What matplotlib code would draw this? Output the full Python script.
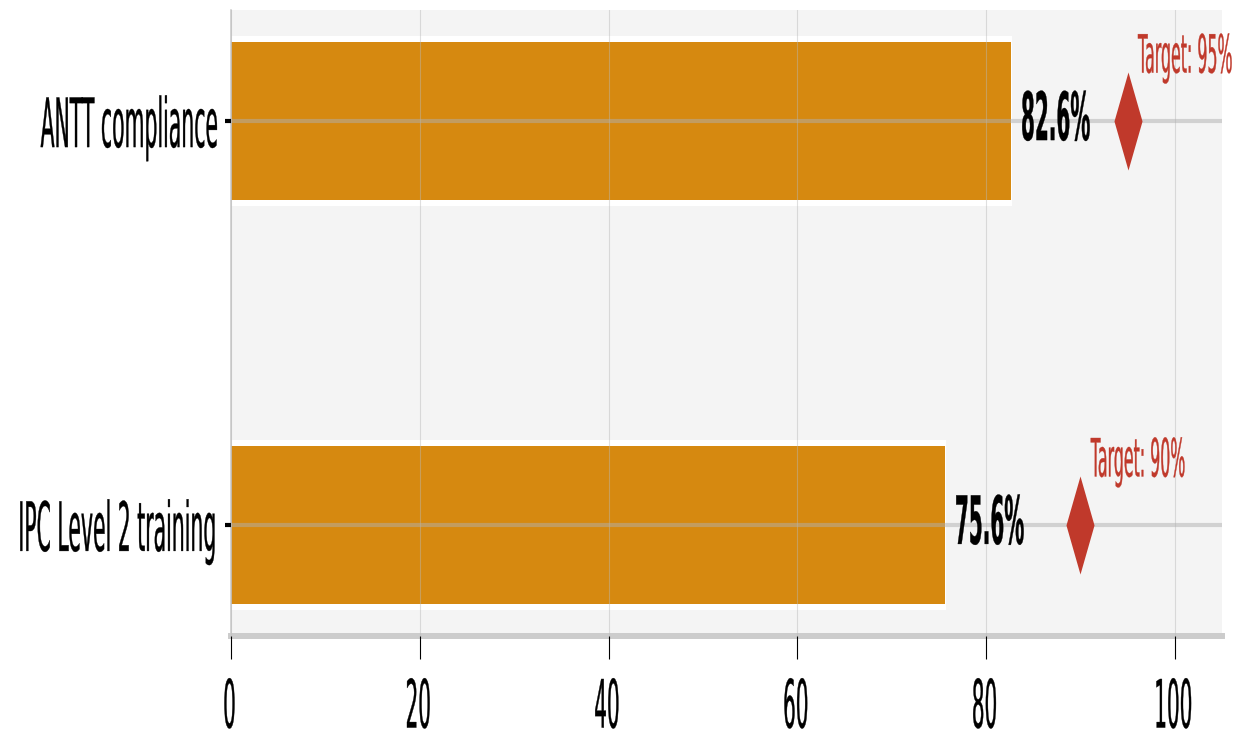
import numpy as np
import matplotlib
matplotlib.use("Agg")
import matplotlib.pyplot as plt
import matplotlib.patheffects as pe
from matplotlib.transforms import Affine2D

categories = ["ANTT compliance", "IPC Level 2 training"]
actual = [82.6, 75.6]
target = [95, 90]
xticks = [0, 20, 40, 60, 80, 100]

BAR = "#D68910"
RED = "#C0392B"
SQ = 0.30  # horizontal squeeze applied to all lettering


class Squeeze(pe.AbstractPathEffect):
    """Narrow the glyph outlines horizontally around the text anchor."""

    def __init__(self, sx, ha="left", stroke=0.25):
        super().__init__()
        self.sx = sx
        self.ha = ha
        self.stroke = stroke

    def draw_path(self, renderer, gc, tpath, affine, rgbFace=None):
        xs = tpath.vertices[:, 0]
        if self.ha == "right":
            pivot = xs.max()
        elif self.ha == "center":
            pivot = 0.5 * (xs.min() + xs.max())
        else:
            pivot = 0.0
        t = Affine2D().translate(-pivot, 0).scale(self.sx, 1).translate(pivot, 0)
        gc0 = renderer.new_gc()
        gc0.copy_properties(gc)
        gc0.set_linewidth(self.stroke)
        gc0.set_foreground(rgbFace)
        renderer.draw_path(gc0, tpath, t + affine, rgbFace)
        gc0.restore()


fig = plt.figure(figsize=(12.53, 7.31), dpi=100)
ax = fig.add_axes([231 / 1253, 1 - 636 / 731, (1222 - 231) / 1253, (636 - 10) / 731])
ax.set_facecolor("#f4f4f4")

ypos = np.arange(len(categories))

# bars with a white rim
ax.barh(ypos, actual, height=0.415, color="white", edgecolor="white",
        linewidth=1.5, zorder=2)
ax.barh(ypos, actual, height=0.39, color=BAR, zorder=2.1)

# target diamonds
diamond = [(0, 1), (0.286, 0), (0, -1), (-0.286, 0), (0, 1)]
ax.plot(target, ypos, linestyle="none", marker=diamond, markersize=70.6,
        color=RED, markeredgewidth=0, zorder=3)

for y, a, t in zip(ypos, actual, target):
    txt = ax.text(a + 1.1, y, f"{a:.1f}%", va="center", ha="left",
                  fontsize=48, fontweight="bold", color="black", zorder=4)
    txt.set_path_effects([Squeeze(SQ, "left")])
    lab = ax.text(t + 1.1, y - 0.12, f"Target: {t}%", va="baseline", ha="left",
                  fontsize=38, color=RED, zorder=4)
    lab.set_path_effects([Squeeze(SQ, "left")])

ax.set_xlim(0, 105)
ax.set_ylim(1.275, -0.275)

ax.set_yticks(ypos, labels=categories, fontsize=49)
ax.set_xticks(xticks, labels=[str(v) for v in xticks], fontsize=48)
for lab in ax.get_yticklabels():
    lab.set_path_effects([Squeeze(SQ, "right")])
for lab in ax.get_xticklabels():
    lab.set_path_effects([Squeeze(SQ, "center")])

ax.tick_params(axis="y", length=4.5, width=3, pad=3.5, color="black")
ax.tick_params(axis="x", length=16.5, width=0.8, pad=12, color="black")

ax.set_axisbelow(False)
ax.xaxis.grid(True, color="#b8b8b8", alpha=0.45, linewidth=0.8)
ax.yaxis.grid(True, color="#b0b0b0", alpha=0.5, linewidth=3)

for side in ["top", "right"]:
    ax.spines[side].set_visible(False)
ax.spines["left"].set_color("#c8c8c8")
ax.spines["left"].set_linewidth(1.1)
ax.spines["bottom"].set_color("#cccccc")
ax.spines["bottom"].set_linewidth(4.3)

fig.savefig("out.png", dpi=100)
